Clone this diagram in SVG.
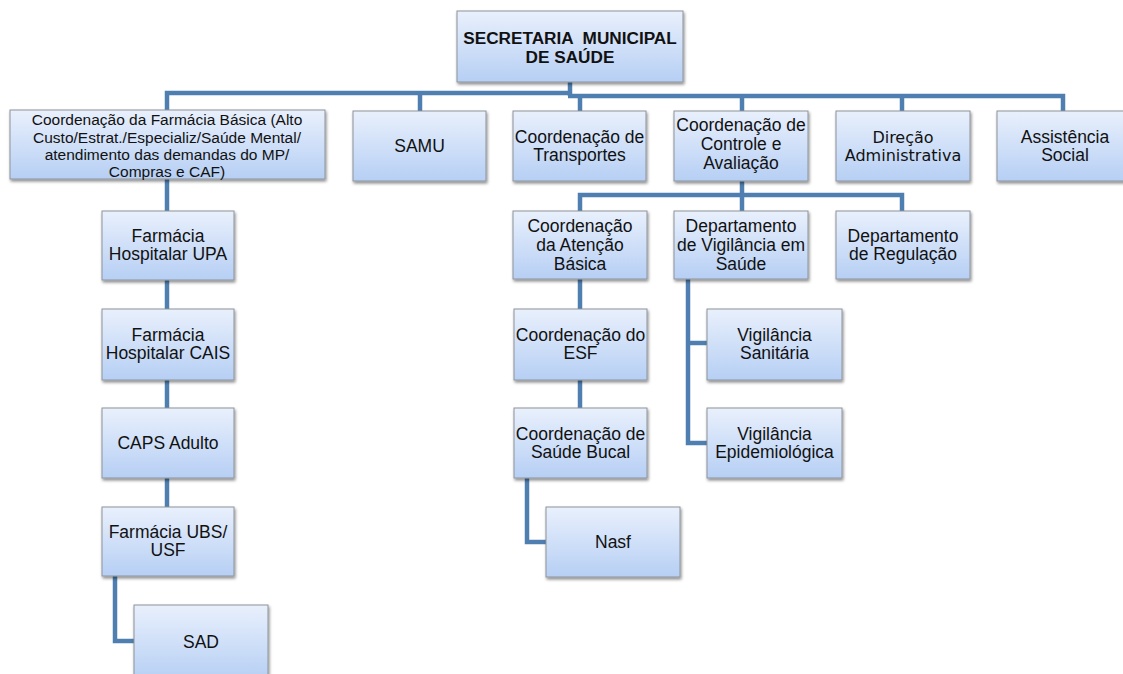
<svg xmlns="http://www.w3.org/2000/svg" width="1123" height="674" viewBox="0 0 1123 674">
<defs>
<linearGradient id="g" x1="0" y1="0" x2="0" y2="1">
<stop offset="0" stop-color="#e9f0fc"/>
<stop offset="1" stop-color="#b6cff4"/>
</linearGradient>
<filter id="sh" x="-10%" y="-10%" width="125%" height="130%">
<feDropShadow dx="1" dy="2" stdDeviation="1.6" flood-color="#000" flood-opacity="0.45"/>
</filter>
<style>
.box{fill:url(#g);stroke:#8d939c;stroke-width:1;filter:url(#sh)}
.t{font-family:"Liberation Sans",Arial,sans-serif;font-size:17.5px;fill:#111;text-anchor:middle}
.s{font-size:15.5px}
.b{font-weight:bold;font-size:17.2px;white-space:pre}
.d{font-family:"DejaVu Sans",sans-serif;font-size:16px}
.c{fill:none;stroke:#4f7fb0;stroke-width:4.5;stroke-linejoin:miter}
</style>
</defs>
<rect width="1123" height="674" fill="#fff"/>
<g id="connectors">
<path class="c" d="M570 82V96M167 110V93H572M420 93V111M568 96H1063V111M580 96V111M742 96V111M902 96V111"/>
<path class="c" d="M167 179V507M115 576V641H134"/>
<path class="c" d="M742 181V195M580 211V195H902V211M742 195V211"/>
<path class="c" d="M580 279V408M527 478V542H546"/>
<path class="c" d="M688 279V443H707M688 343H707"/>
</g>
<g id="n-secretaria"><rect class="box" x="457" y="11" width="226" height="71"/>
<text class="t b" x="570" y="44" xml:space="preserve">SECRETARIA  MUNICIPAL</text><text class="t b" x="570" y="63">DE SAÚDE</text></g>
<g id="n-farmacia-basica"><rect class="box" x="10" y="110" width="315" height="69"/>
<text class="t s" x="167" y="125">Coordenação da Farmácia Básica (Alto</text>
<text class="t s" x="167" y="142.5">Custo/Estrat./Especializ/Saúde Mental/</text>
<text class="t s" x="167" y="160">atendimento das demandas do MP/</text>
<text class="t s" x="167" y="177">Compras e CAF)</text></g>
<g id="n-samu"><rect class="box" x="353" y="111" width="133" height="70"/><text class="t" x="419.5" y="152">SAMU</text></g>
<g id="n-transportes"><rect class="box" x="513" y="111" width="133" height="70"/><text class="t" x="579.5" y="143">Coordenação de</text><text class="t" x="579.5" y="161">Transportes</text></g>
<g id="n-controle"><rect class="box" x="674" y="111" width="134" height="70"/><text class="t" x="741" y="131">Coordenação de</text><text class="t" x="741" y="150">Controle e</text><text class="t" x="741" y="169">Avaliação</text></g>
<g id="n-direcao"><rect class="box" x="836" y="111" width="134" height="70"/><text class="t d" x="903" y="143">Direção</text><text class="t d" x="903" y="161">Administrativa</text></g>
<g id="n-assistencia"><rect class="box" x="997" y="111" width="136" height="70"/><text class="t" x="1065" y="143">Assistência</text><text class="t" x="1065" y="161">Social</text></g>
<g id="n-atencao"><rect class="box" x="513" y="211" width="134" height="68"/><text class="t" x="580" y="232">Coordenação</text><text class="t" x="580" y="251">da Atenção</text><text class="t" x="580" y="270">Básica</text></g>
<g id="n-vigilancia"><rect class="box" x="674" y="211" width="134" height="68"/><text class="t" x="741" y="232">Departamento</text><text class="t" x="741" y="251">de Vigilância em</text><text class="t" x="741" y="270">Saúde</text></g>
<g id="n-regulacao"><rect class="box" x="836" y="211" width="134" height="68"/><text class="t" x="903" y="242">Departamento</text><text class="t" x="903" y="260">de Regulação</text></g>
<g id="n-upa"><rect class="box" x="102" y="211" width="132" height="69"/><text class="t" x="168" y="242">Farmácia</text><text class="t" x="168" y="260">Hospitalar UPA</text></g>
<g id="n-cais"><rect class="box" x="102" y="309" width="132" height="71"/><text class="t" x="168" y="341">Farmácia</text><text class="t" x="168" y="359">Hospitalar CAIS</text></g>
<g id="n-caps"><rect class="box" x="102" y="408" width="132" height="70"/><text class="t" x="168" y="449">CAPS Adulto</text></g>
<g id="n-ubs"><rect class="box" x="102" y="507" width="132" height="69"/><text class="t" x="168" y="538">Farmácia UBS/</text><text class="t" x="168" y="556">USF</text></g>
<g id="n-sad"><rect class="box" x="134" y="605" width="134" height="75"/><text class="t" x="201" y="648">SAD</text></g>
<g id="n-esf"><rect class="box" x="514" y="309" width="133" height="71"/><text class="t" x="580.5" y="341">Coordenação do</text><text class="t" x="580.5" y="359">ESF</text></g>
<g id="n-bucal"><rect class="box" x="514" y="408" width="133" height="70"/><text class="t" x="580.5" y="440">Coordenação de</text><text class="t" x="580.5" y="458">Saúde Bucal</text></g>
<g id="n-nasf"><rect class="box" x="546" y="507" width="134" height="70"/><text class="t" x="613" y="548">Nasf</text></g>
<g id="n-sanitaria"><rect class="box" x="707" y="309" width="135" height="71"/><text class="t" x="774.5" y="341">Vigilância</text><text class="t" x="774.5" y="359">Sanitária</text></g>
<g id="n-epidemio"><rect class="box" x="707" y="408" width="135" height="70"/><text class="t" x="774.5" y="440">Vigilância</text><text class="t" x="774.5" y="458">Epidemiológica</text></g>
</svg>
